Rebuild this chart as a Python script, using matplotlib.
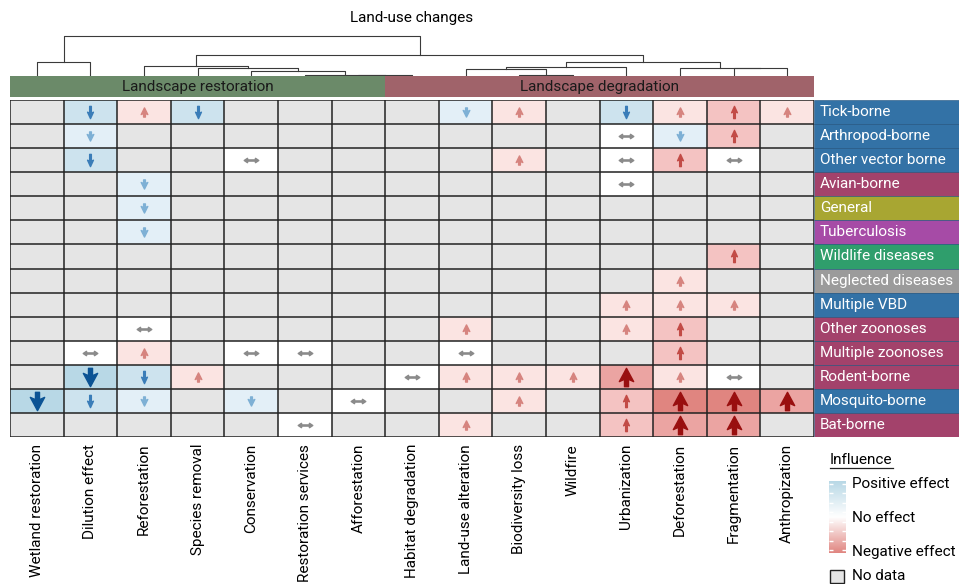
import numpy as np
import matplotlib
matplotlib.use("Agg")
import matplotlib.pyplot as plt
from matplotlib.colors import ListedColormap, BoundaryNorm, LinearSegmentedColormap
from matplotlib.path import Path
from matplotlib.patches import Rectangle
from matplotlib.lines import Line2D

plt.rcParams['font.family'] = ['Roboto', 'DejaVu Sans']

land_use = ['Wetland restoration', 'Dilution effect', 'Reforestation', 'Species removal',
            'Conservation', 'Restoration services', 'Afforestation', 'Habitat degradation',
            'Land-use alteration', 'Biodiversity loss', 'Wildfire', 'Urbanization',
            'Deforestation', 'Fragmentation', 'Anthropization']

diseases = ['Tick-borne', 'Arthropod-borne', 'Other vector borne', 'Avian-borne', 'General',
            'Tuberculosis', 'Wildlife diseases', 'Neglected diseases', 'Multiple VBD',
            'Other zoonoses', 'Multiple zoonoses', 'Rodent-borne', 'Mosquito-borne', 'Bat-borne']

disease_type = ['vector', 'vector', 'vector', 'zoonotic', 'general', 'tb', 'wildlife',
                'neglected', 'vector', 'zoonotic', 'zoonotic', 'zoonotic', 'vector', 'zoonotic']

type_colors = {'vector': '#3372a6', 'zoonotic': '#a3426b', 'general': '#a8a632',
               'tb': '#a64ba6', 'wildlife': '#2f9e6c', 'neglected': '#9b9b9b'}

# influence: >0 positive effect (disease goes down), <0 negative effect, 0 no effect
n = np.nan
influence = np.array([
    [n, 2, -1, 2, n, n, n, n, 1, -1, n, 2, -1, -2, -1],
    [n, 1, n, n, n, n, n, n, n, n, n, 0, 1, -2, n],
    [n, 2, n, n, 0, n, n, n, n, -1, n, 0, -2, 0, n],
    [n, n, 1, n, n, n, n, n, n, n, n, 0, n, n, n],
    [n, n, 1, n, n, n, n, n, n, n, n, n, n, n, n],
    [n, n, 1, n, n, n, n, n, n, n, n, n, n, n, n],
    [n, n, n, n, n, n, n, n, n, n, n, n, n, -2, n],
    [n, n, n, n, n, n, n, n, n, n, n, n, -1, n, n],
    [n, n, n, n, n, n, n, n, n, n, n, -1, -1, -1, n],
    [n, n, 0, n, n, n, n, n, -1, n, n, -1, -2, n, n],
    [n, 0, -1, n, 0, 0, n, n, 0, n, n, n, -2, n, n],
    [n, 3, 2, -1, n, n, n, 0, -1, -1, -1, -3, -1, 0, n],
    [3, 2, 1, n, 1, n, 0, n, n, -1, n, -2, -4, -4, -3],
    [n, n, n, n, n, 0, n, n, -1, n, n, -2, -3, -3, n],
])

groups = ['Landscape restoration', 'Landscape degradation']
group_sizes = [7, 8]
group_fill = ['#6b8a69', '#a0636a']

# column dendrogram: (left node, right node, height); leaves are 0..14
merges = [
    (6, 7, 0.6), (5, 15, 1.0), (4, 16, 5.0), (3, 17, 7.7), (2, 18, 10.3),
    (0, 1, 13.7), (9, 10, 1.0), (8, 21, 6.7), (22, 11, 9.3), (13, 14, 7.7),
    (12, 24, 8.3), (23, 25, 13.7), (19, 26, 21.0), (20, 27, 40.3),
]

cell_colors = ['#e08580', '#eba4a2', '#f4c3c2', '#fbe4e2', '#ffffff',
               '#e3eff7', '#cde3ee', '#b8d8e6']
blue_arrow = {1: '#7eb0d5', 2: '#3a7db8', 3: '#0b5394'}
red_arrow = {1: '#d6847f', 2: '#c24b46', 3: '#990f0f'}
grid_color = '#222222'

W, H = 959, 584


def frac(x0, y0, x1, y1):
    return [x0 / W, 1 - y1 / H, (x1 - x0) / W, (y1 - y0) / H]


def arrow_path(head_w, notch_y, notch_w, head_y):
    # upward arrow with barbed head, normalised to height 2
    verts = [(0, 1), (head_w, head_y), (notch_w, notch_y), (notch_w, -1),
             (-notch_w, -1), (-notch_w, notch_y), (-head_w, head_y), (0, 1)]
    codes = [Path.MOVETO] + [Path.LINETO] * 6 + [Path.CLOSEPOLY]
    return Path(verts, codes)


def flip(path):
    v = path.vertices.copy()
    v[:, 1] *= -1
    return Path(v, path.codes)


arrow_shapes = {
    1: (arrow_path(0.72, -0.2, 0.2, -0.45), 6.6),
    2: (arrow_path(0.48, 0.12, 0.14, -0.05), 8.8),
    3: (arrow_path(0.78, -0.2, 0.22, -0.45), 13.2),
}
both = Path([(-1, 0), (-0.55, 0.3), (-0.5, 0.08), (0.5, 0.08), (0.55, 0.3), (1, 0),
             (0.55, -0.3), (0.5, -0.08), (-0.5, -0.08), (-0.55, -0.3), (-1, 0)],
            [Path.MOVETO] + [Path.LINETO] * 9 + [Path.CLOSEPOLY])

fig = plt.figure(figsize=(W / 100, H / 100), dpi=100)
nr, nc = influence.shape

# heatmap
ax = fig.add_axes(frac(10, 100, 814, 437))
ax.set_facecolor('#e5e5e5')
cmap = ListedColormap(cell_colors)
norm = BoundaryNorm(np.arange(-4.5, 4.0, 1.0), cmap.N)
ax.pcolormesh(np.arange(nc + 1), np.arange(nr + 1), np.ma.masked_invalid(influence),
              cmap=cmap, norm=norm)
ax.set_xlim(0, nc)
ax.set_ylim(nr, 0)
for k in range(nc + 1):
    ax.axvline(k, color=grid_color, lw=1.1, zorder=2)
for k in range(nr + 1):
    ax.axhline(k, color=grid_color, lw=1.1, zorder=2)
for s in ax.spines.values():
    s.set_visible(False)

for i in range(nr):
    for j in range(nc):
        v = influence[i, j]
        if np.isnan(v):
            continue
        x, y = j + 0.5, i + 0.5
        if v == 0:
            ax.plot(x, y, marker=both, ms=10.5, color='#8a8a8a', ls='none', zorder=3)
            continue
        lvl = min(int(abs(v)), 3)
        path, ms = arrow_shapes[lvl]
        if v > 0:
            ax.plot(x, y, marker=flip(path), ms=ms, color=blue_arrow[lvl], ls='none', zorder=3)
        else:
            ax.plot(x, y, marker=path, ms=ms, color=red_arrow[lvl], ls='none', zorder=3)

ax.set_yticks([])
ax.set_xticks(np.arange(nc) + 0.5)
ax.set_xticklabels(land_use, rotation=90, va='top', ha='center', fontsize=11)
ax.tick_params(axis='x', length=0, pad=5)

# disease labels on the right
axl = fig.add_axes(frac(814, 100, 959, 437))
row_cols = [type_colors[t] for t in disease_type]
axl.barh(np.arange(nr) + 0.5, 1, height=1, left=0, color=row_cols,
         edgecolor='#1d4f7a', linewidth=0.4)
for i, name in enumerate(diseases):
    axl.text(0.04, i + 0.5, name, color='white', fontsize=11, va='center', ha='left')
axl.set_xlim(0, 1)
axl.set_ylim(nr, 0)
axl.axis('off')

# group bar
axg = fig.add_axes(frac(10, 76.5, 814, 96.5))
starts = np.cumsum([0] + group_sizes[:-1])
axg.bar(starts, 1, width=group_sizes, align='edge', bottom=0, color=group_fill)
for s0, w, name in zip(starts, group_sizes, groups):
    axg.text(s0 + w / 2, 0.5, name, ha='center', va='center', fontsize=11, color='#1a1a1a')
axg.set_xlim(0, nc)
axg.set_ylim(0, 1)
axg.axis('off')

# dendrogram
axd = fig.add_axes(frac(10, 30, 814, 76))
pos = {j: (j + 0.5, 0.0) for j in range(nc)}
for k, (a, b, h) in enumerate(merges):
    xa, ha_ = pos[a]
    xb, hb = pos[b]
    axd.plot([xa, xa, xb, xb], [ha_, h, h, hb], color='#3a3a3a', lw=0.8)
    pos[nc + k] = ((xa + xb) / 2, h)
axd.set_xlim(0, nc)
axd.set_ylim(0, 46)
axd.axis('off')

fig.text(412 / W, 1 - 18 / H, 'Land-use changes', ha='center', va='center', fontsize=11)

# legend
axc = fig.add_axes(frac(829, 481, 846, 553))
leg_cmap = LinearSegmentedColormap.from_list('infl', ['#b8d8e6', '#ffffff', '#e08580'])
axc.imshow(np.linspace(0, 1, 256)[:, None], aspect='auto', cmap=leg_cmap,
           extent=[0, 1, 1, 0])
axc.set_xticks([])
axc.set_yticks(np.linspace(0.04, 0.96, 8))
axc.set_yticklabels([])
axc.tick_params(axis='y', direction='in', length=3, width=1, color='white',
                left=True, right=True)
for s in axc.spines.values():
    s.set_visible(False)

t = fig.text(830 / W, 1 - 460 / H, 'Influence', fontsize=11, va='center', ha='left')
fig.text(852 / W, 1 - 484 / H, 'Positive effect', fontsize=11, va='center')
fig.text(852 / W, 1 - 518 / H, 'No effect', fontsize=11, va='center')
fig.text(852 / W, 1 - 552 / H, 'Negative effect', fontsize=11, va='center')
fig.text(852 / W, 1 - 576 / H, 'No data', fontsize=11, va='center')
fig.add_artist(Rectangle((830 / W, 1 - 583 / H), 14 / W, 13 / H, transform=fig.transFigure,
                         facecolor='#e5e5e5', edgecolor='#222222', lw=1))

# underline the legend title
fig.canvas.draw()
bb = t.get_window_extent().transformed(fig.transFigure.inverted())
fig.add_artist(Line2D([bb.x0, bb.x1], [bb.y0 - 0.002, bb.y0 - 0.002],
                      transform=fig.transFigure, color='#222222', lw=0.9))

fig.savefig('out.png', dpi=100)
